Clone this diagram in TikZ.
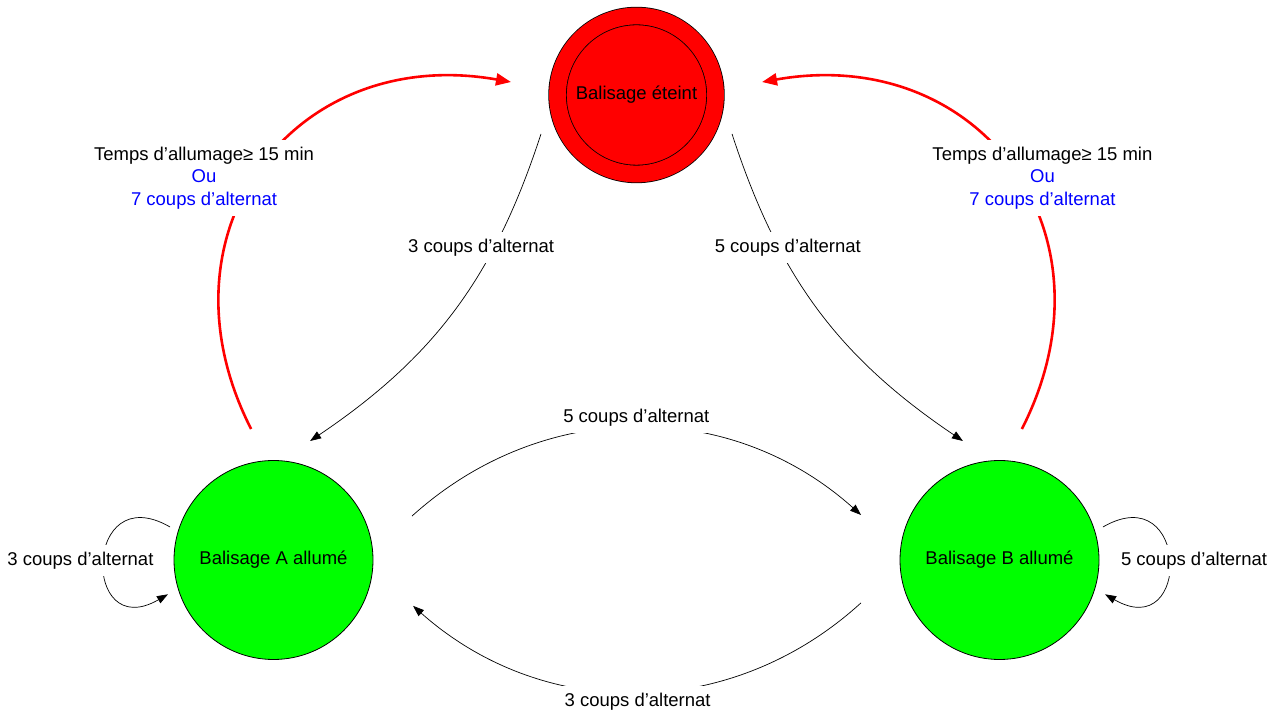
\documentclass[tikz,border=0pt]{standalone}
\usepackage{fontspec}
\setmainfont{Liberation Sans}
\usetikzlibrary{arrows.meta}

\begin{document}
\begin{tikzpicture}[x=1pt,y=1pt,font=\fontsize{18.5}{22.5}\selectfont]
\tikzstyle{etat}=[circle, draw=black, line width=0.8pt, minimum size=199pt, inner sep=0pt, fill=green]
\tikzstyle{fleche}=[-{Triangle[length=11pt,width=8pt]}, line width=0.7pt, black]
\tikzstyle{retour}=[-{Triangle[length=15pt,width=12pt]}, line width=2.6pt, red]
\tikzstyle{etiquette}=[fill=white, text=black, inner xsep=3pt, inner ysep=7pt, align=center]
\useasboundingbox (0,0) rectangle (1279,711);
 \node[etat, fill=red, minimum size=158pt, double=red, double distance=16.8pt] (eteint) at (636.5,616) {Balisage éteint};
 \node[etat] (A) at (273.5,151) {Balisage A allumé};
 \node[etat] (B) at (999.5,151) {Balisage B allumé};
 % vers les balisages allumes
 \draw[fleche] ([shift={(202.2:103.2)}]eteint.center) to[out=252, in=34]
   node[etiquette, pos=0.3, xshift=-13pt] {3 coups d’alternat} ([shift={(72.9:124.5)}]A.center);
 \draw[fleche] ([shift={(337.8:103.2)}]eteint.center) to[out=288, in=146]
   node[etiquette, pos=0.3, xshift=9pt] {5 coups d’alternat} ([shift={(107.1:124.5)}]B.center);
 % entre A et B
 \draw[fleche] ([shift={(17.6:145.3)}]A.center) to[bend left=42]
   node[etiquette, midway, yshift=10pt] {5 coups d’alternat} ([shift={(162:145.6)}]B.center);
 \draw[fleche] ([shift={(197.2:145)}]B.center) to[bend left=42]
   node[etiquette, midway, yshift=-9pt] {3 coups d’alternat} ([shift={(341.8:146.9)}]A.center);
 % boucles
 \draw[fleche] ([shift={(162.3:108.6)}]A.center) to[out=150, in=210, looseness=3.8]
   node[etiquette, pos=0.5, xshift=-23.5pt] {3 coups d’alternat} ([shift={(198:111)}]A.center);
 \draw[fleche] ([shift={(17.7:108.6)}]B.center) to[out=30, in=330, looseness=3.8]
   node[etiquette, pos=0.5, xshift=25pt] {5 coups d’alternat} ([shift={(342:111)}]B.center);
 % retour a l'etat eteint
 \draw[retour] ([shift={(99.7:132.9)}]A.center) to[out=117, in=170, looseness=1.3]
   node[etiquette, pos=0.5, xshift=-58pt, yshift=-10.7pt] {Temps d’allumage≥ 15 min\\\textcolor{blue}{Ou}\\\textcolor{blue}{7 coups d’alternat}}
   ([shift={(174.1:126.2)}]eteint.center);
 \draw[retour] ([shift={(80.3:132.9)}]B.center) to[out=63, in=10, looseness=1.3]
   node[etiquette, pos=0.5, xshift=31.5pt, yshift=-10.7pt] {Temps d’allumage≥ 15 min\\\textcolor{blue}{Ou}\\\textcolor{blue}{7 coups d’alternat}}
   ([shift={(5.9:126.2)}]eteint.center);
\end{tikzpicture}
\end{document}
